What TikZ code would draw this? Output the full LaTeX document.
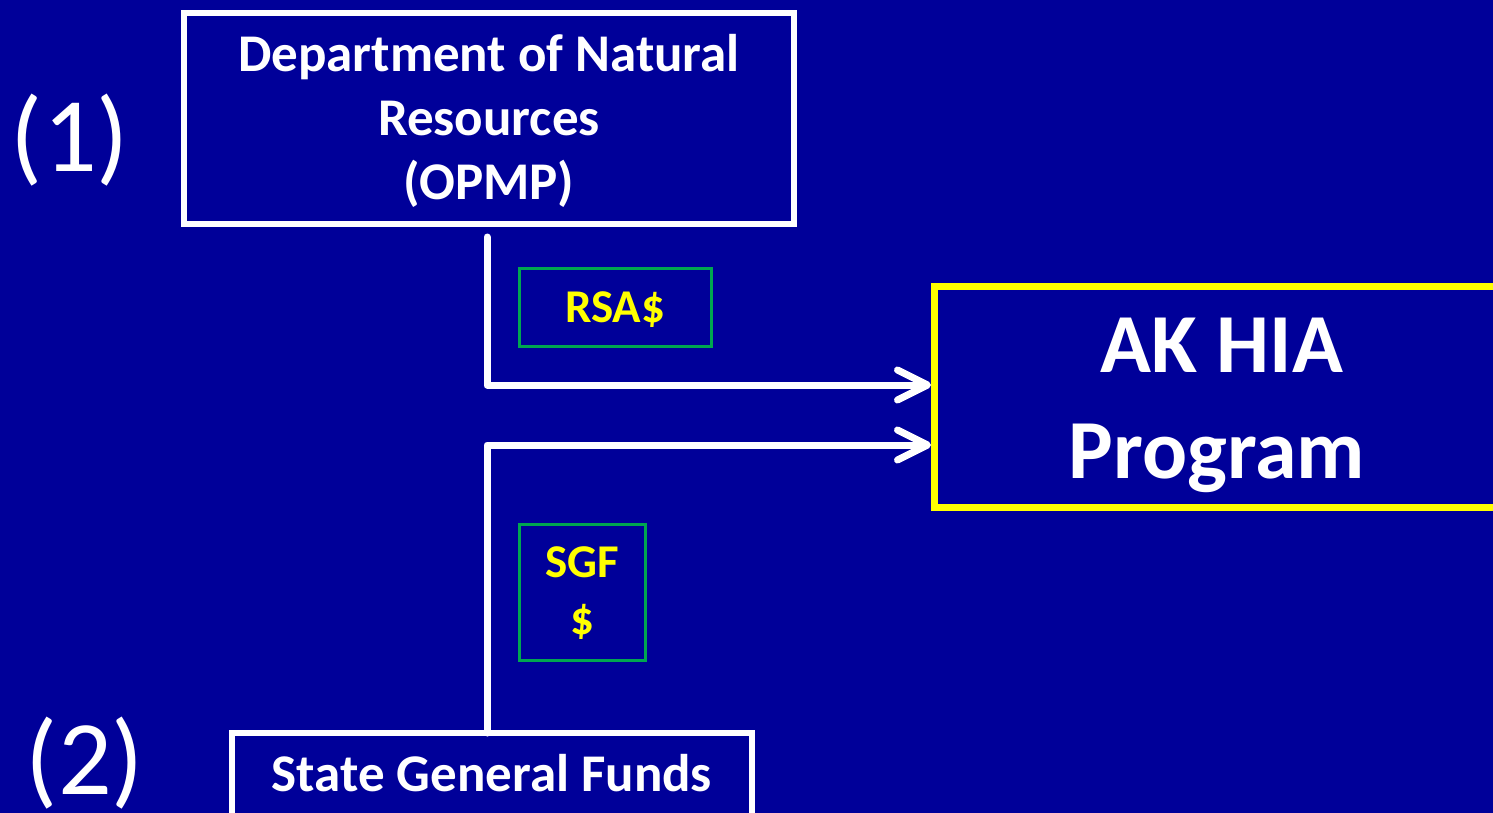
\documentclass[tikz,border=0pt]{standalone}
\usepackage{fontspec}
\setmainfont{Carlito}
\usetikzlibrary{arrows.meta}
\definecolor{bg}{RGB}{0,0,153}
\definecolor{ylw}{RGB}{255,255,0}
\definecolor{grn}{RGB}{0,166,80}
\newcommand{\shiftv}[2]{\raisebox{#1}[\height][\depth]{#2}}
\tikzset{
  whitebox/.style={draw=white, line width=6pt, rectangle, inner sep=0pt, text=white, align=center, font=\bfseries\fontsize{53}{64}\selectfont},
  moneybox/.style={draw=grn, line width=3pt, rectangle, inner sep=0pt, text=ylw, align=center, font=\bfseries\fontsize{47}{57}\selectfont},
  mainbox/.style={draw=ylw, line width=7pt, rectangle, inner sep=0pt, text=white, align=center, font=\bfseries\fontsize{84}{104}\selectfont},
  numlabel/.style={text=white, inner sep=0pt, font=\fontsize{106}{120}\selectfont},
  flow/.style={draw=white, line width=7pt, line cap=round, line join=round, -{Straight Barb[length=30pt,width=30pt,round]}}
}
\begin{document}
\begin{tikzpicture}[x=1pt,y=-1pt]
\useasboundingbox (0,0) rectangle (1493,813);
\fill[bg] (0,0) rectangle (1493,813);
\begin{scope}
\clip (0,0) rectangle (1493,813);
\node[whitebox, minimum width=610pt, minimum height=211pt] (dnr) at (489,118.5) {\shiftv{-4pt}{\begin{tabular}{@{}c@{}}Department of Natural\\Resources\\(OPMP)\end{tabular}}};
\node[mainbox, minimum width=575pt, minimum height=221pt] (aks) at (1222,397) {\shiftv{-8pt}{\begin{tabular}{@{}c@{}}AK HIA\\[2pt]\hspace*{-10pt}Program\end{tabular}}};
\node[moneybox, minimum width=192pt, minimum height=78pt] (rsa) at (615,307) {\shiftv{-3pt}{RSA\$}};
\node[moneybox, minimum width=126pt, minimum height=136pt] (sgf) at (582,592) {\shiftv{-3pt}{\begin{tabular}{@{}c@{}}SGF\\\$\end{tabular}}};
\node[whitebox, minimum width=520pt, minimum height=110pt, anchor=north] (funds) at (492,730) {\shiftv{15pt}{State General Funds}};
\node[numlabel] (n1) at (70,140) {(1)};
\node[numlabel] (n2) at (85,763) {(2)};
\draw[flow] ([xshift=-2pt,yshift=-10pt]dnr.south) |- ([yshift=12pt]aks.west);
\draw[flow] ([xshift=-5pt,yshift=-3pt]funds.north) |- ([yshift=-48pt]aks.west);
\end{scope}
\end{tikzpicture}
\end{document}
